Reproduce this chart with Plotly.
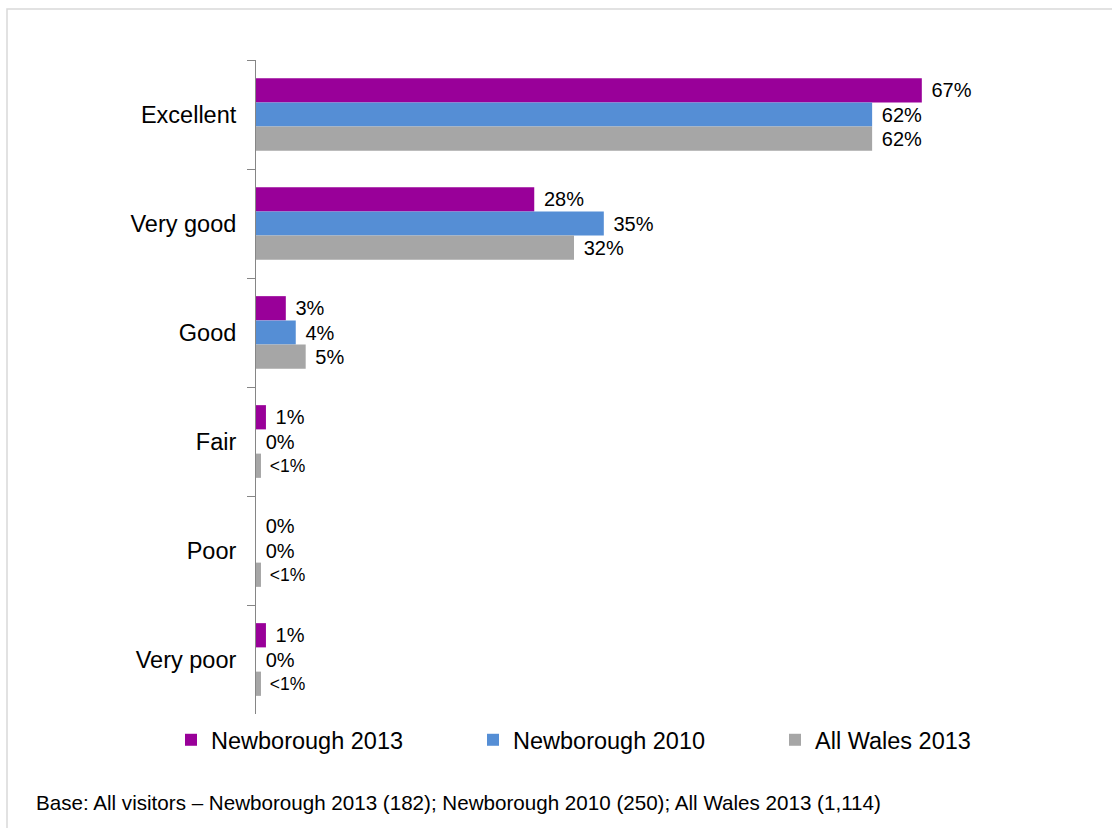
import plotly.graph_objects as go

# Visitor rating of overall experience (%), by survey
categories = ["Excellent", "Very good", "Good", "Fair", "Poor", "Very poor"]
newborough_2013 = [67, 28, 3, 1, 0, 1]
newborough_2010 = [62, 35, 4, 0, 0, 0]
all_wales_2013 = [62, 32, 5, 0.5, 0.5, 0.5]
all_wales_labels = ["62%", "32%", "5%", "<1%", "<1%", "<1%"]

series = [
    ("Newborough 2013", newborough_2013, None, "#990099"),
    ("Newborough 2010", newborough_2010, None, "#558ED5"),
    ("All Wales 2013", all_wales_2013, all_wales_labels, "#A6A6A6"),
]

W, H = 1112, 828
L, R, T, B = 256, 61, 60, 114
pw, ph = W - L - R, H - T - B

GAP = "\u2004"  # small lead space between bar end and its label

fig = go.Figure()
for name, vals, labels, color in series:
    if labels is None:
        labels = [f"{v:g}%" for v in vals]
    sizes = [17.5 if t.startswith("<") else 20 for t in labels]
    fig.add_trace(go.Bar(
        name=name,
        y=categories,
        x=vals,
        orientation="h",
        marker=dict(color=color, line=dict(width=0)),
        text=[GAP + t for t in labels],
        textposition="outside",
        textfont=dict(size=sizes, color="#000000"),
        cliponaxis=False,
        hoverinfo="skip",
    ))

# light frame around the chart area
fig.add_shape(
    type="rect", xref="paper", yref="paper",
    x0=(7 - L) / pw, x1=(W + 20 - L) / pw,
    y0=-(H + 20 - T - ph) / ph, y1=(T + ph - 9) / ph,
    line=dict(color="#D9D9D9", width=1.5), fillcolor="rgba(0,0,0,0)", layer="below",
)

fig.add_annotation(
    text="Base: All visitors \u2013 Newborough 2013 (182); Newborough 2010 (250); All Wales 2013 (1,114)",
    xref="paper", yref="paper",
    x=(34 - L) / pw, y=-(803 - T - ph) / ph,
    xanchor="left", yanchor="middle", showarrow=False,
    font=dict(size=20.6, color="#000000"),
)

fig.update_layout(
    width=W, height=H,
    margin=dict(l=L, r=R, t=T, b=B, pad=0),
    paper_bgcolor="#FFFFFF", plot_bgcolor="#FFFFFF",
    font=dict(family="Arial, 'Liberation Sans', sans-serif", color="#000000"),
    barmode="group",
    bargap=0.333, bargroupgap=0,
    showlegend=True,
    legend=dict(
        orientation="h",
        x=(171 - L) / pw, xanchor="left",
        y=-(740 - T - ph) / ph, yanchor="middle",
        font=dict(size=23.5),
        entrywidth=257, entrywidthmode="pixels",
        bgcolor="rgba(0,0,0,0)",
        traceorder="normal",
    ),
    xaxis=dict(range=[0, 80], visible=False, fixedrange=True),
    yaxis=dict(
        autorange="reversed",
        showline=True, linecolor="#868686", linewidth=1,
        ticks="outside", ticklen=8, tickcolor="#868686", tickwidth=1,
        tickson="boundaries",
        tickfont=dict(size=23.5, color="#000000"),
        ticklabelstandoff=14,
        showgrid=False, zeroline=False,
    ),
)

fig.write_html("out.html")
